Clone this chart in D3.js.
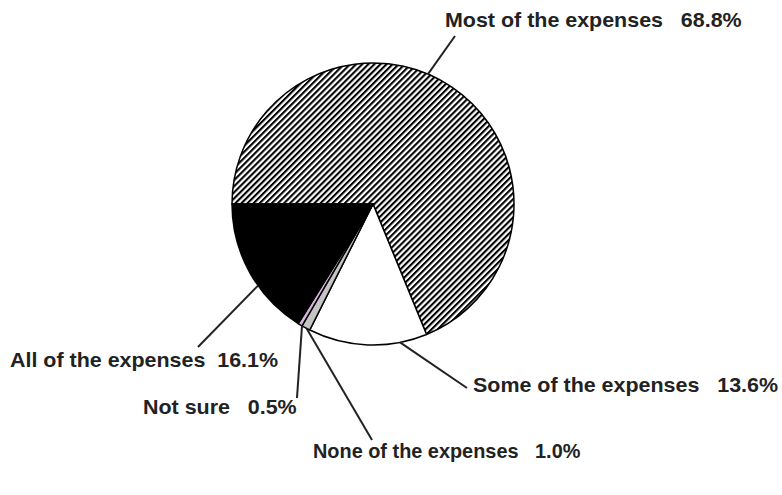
<!DOCTYPE html>
<html>
<head>
<meta charset="utf-8">
<script src="https://cdn.jsdelivr.net/npm/d3@7"></script>
<style>
  body { margin: 0; background: #fff; }
  text { font-family: "Liberation Sans", Arial, sans-serif; font-weight: bold; font-size: 19.5px; fill: #222; white-space: pre; }
</style>
</head>
<body>
<svg id="chart"></svg>
<script>
var categories = ["Most of the expenses", "Some of the expenses", "None of the expenses", "Not sure", "All of the expenses"];
var values = [68.8, 13.6, 1.0, 0.5, 16.1];
var valueLabels = ["68.8%", "13.6%", "1.0%", "0.5%", "16.1%"];
var gaps = ["   ", "   ", "   ", "   ", "  "];

var width = 782, height = 495;
var cx = 373, cy = 204, radius = 141;

// label layout: text anchor point, horizontal stretch, leader end, where on the slice the leader starts
var labelX = [445, 473, 313, 143, 10];
var labelY = [20, 385, 451, 407, 360];
var labelStretch = [1.1, 1.1, 1.02, 1.1, 1.1];
var leadX = [455, 467, 372, 297, 198];
var leadY = [36, 388, 440, 398, 347];
var leadFrac = [0.456, 0.23, 0.4, 0.0, 0.39];
var fills = ["url(#hatch)", "#ffffff", "#c4c4c4", "#d9b3e0", "#000000"];

var svg = d3.select("#chart").attr("width", width).attr("height", height);

var defs = svg.append("defs");
var pat = defs.append("pattern")
    .attr("id", "hatch")
    .attr("patternUnits", "userSpaceOnUse")
    .attr("width", 4.3)
    .attr("height", 4.3)
    .attr("patternTransform", "rotate(45)");
pat.append("rect").attr("width", 4.3).attr("height", 4.3).attr("fill", "#fff");
pat.append("rect").attr("width", 2.1).attr("height", 4.3).attr("fill", "#000");

var pie = d3.pie()
    .sort(null)
    .value(function(d) { return d; })
    .startAngle(-Math.PI / 2)
    .endAngle(3 * Math.PI / 2);

var arcs = pie(values);
var arc = d3.arc().innerRadius(0).outerRadius(radius);

var g = svg.append("g").attr("transform", "translate(" + cx + "," + cy + ")");

g.selectAll("path.slice")
    .data(arcs)
    .enter()
    .append("path")
    .attr("class", "slice")
    .attr("d", arc)
    .attr("fill", function(d, i) { return fills[i]; })
    .attr("stroke", "#000")
    .attr("stroke-width", 1.5)
    .attr("stroke-linejoin", "round");

// leader lines
var leadPoint = function(d, i) {
    var a = d.startAngle + (d.endAngle - d.startAngle) * leadFrac[i];
    return [Math.sin(a) * radius, -Math.cos(a) * radius];
};

g.selectAll("line.leader")
    .data(arcs)
    .enter()
    .append("line")
    .attr("class", "leader")
    .attr("x1", function(d, i) { return leadPoint(d, i)[0]; })
    .attr("y1", function(d, i) { return leadPoint(d, i)[1]; })
    .attr("x2", function(d, i) { return leadX[i] - cx; })
    .attr("y2", function(d, i) { return leadY[i] - cy; })
    .attr("stroke", "#222")
    .attr("stroke-width", 2);

// text is a bit wider than the font, so stretch it horizontally
svg.selectAll("text.label")
    .data(categories)
    .enter()
    .append("text")
    .attr("class", "label")
    .attr("transform", function(d, i) {
        return "translate(" + labelX[i] + "," + labelY[i] + ") scale(" + labelStretch[i] + ",1)";
    })
    .attr("dy", "0.35em")
    .text(function(d, i) { return d + gaps[i] + valueLabels[i]; });
</script>
</body>
</html>
